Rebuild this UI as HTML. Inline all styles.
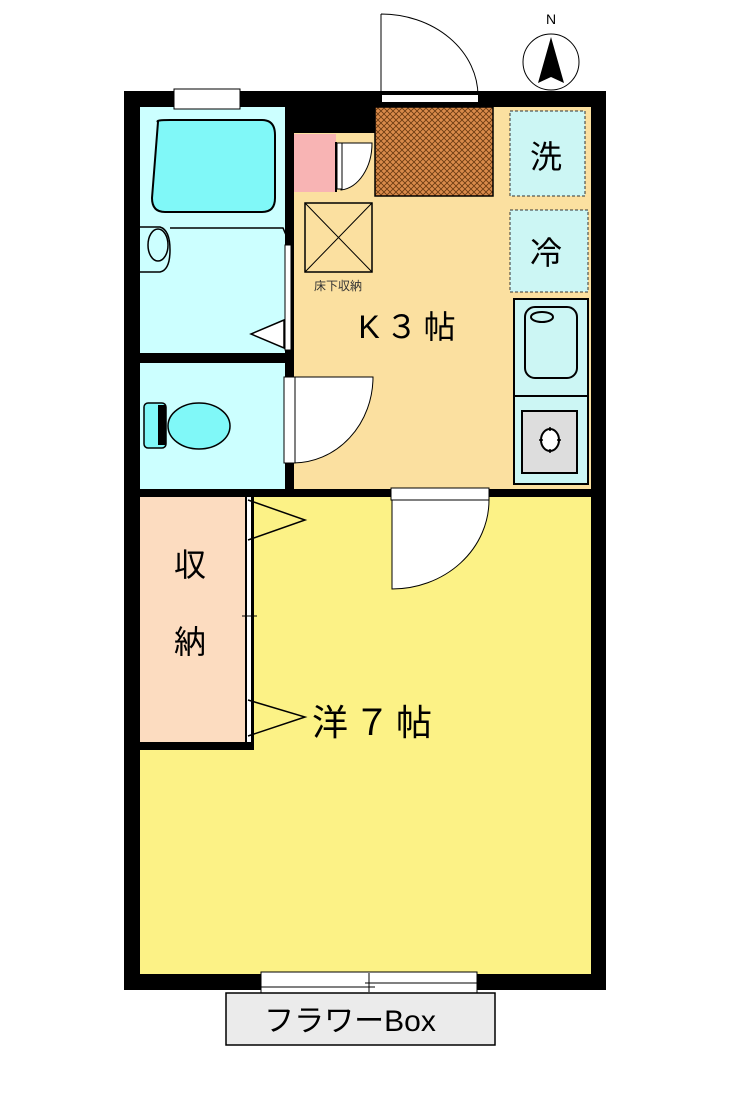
<!DOCTYPE html>
<html><head><meta charset="utf-8"><style>
html,body{margin:0;padding:0;background:#fff;}
svg{display:block;}
text{font-family:"Liberation Sans","Noto Sans CJK JP",sans-serif;}
</style></head><body>
<svg width="754" height="1102" viewBox="0 0 754 1102" xmlns="http://www.w3.org/2000/svg">
<defs>
<pattern id="hatch" width="6" height="6" patternUnits="userSpaceOnUse">
<rect width="6" height="6" fill="#d98a4a"/>
<path d="M0 0L6 6M6 0L0 6" stroke="#6a3a10" stroke-width="0.8"/>
</pattern>
</defs>
<rect x="124" y="91" width="482" height="899" fill="#000"/>
<rect x="140" y="107" width="145" height="246" fill="#ccffff"/>
<rect x="140" y="363" width="145" height="126" fill="#ccffff"/>
<rect x="294" y="107" width="297" height="382" fill="#fbe0a0"/>
<rect x="293" y="107" width="82" height="26" fill="#000"/>
<rect x="140" y="497" width="105" height="245" fill="#fcdcc0"/>
<rect x="254" y="497" width="337" height="477" fill="#fcf286"/>
<rect x="140" y="750" width="114" height="224" fill="#fcf286"/>
<rect x="174" y="89" width="66" height="20" fill="#fff" stroke="#000" stroke-width="1"/>
<path d="M381 14 L381 96 M381 14 A97 82 0 0 1 478 96" fill="none" stroke="#000" stroke-width="1"/>
<rect x="382" y="95" width="96" height="7" fill="#fff"/>
<rect x="375" y="107" width="118" height="89" fill="url(#hatch)" stroke="#000" stroke-width="1.5"/>
<rect x="293" y="134" width="43" height="58" fill="#f8b4b4"/>
<path d="M336 142 L336 192" stroke="#000" stroke-width="2"/>
<path d="M338 143 L372 143 A34 47 0 0 1 341 190 Z" fill="#fff" stroke="#000" stroke-width="1"/>
<rect x="337" y="143" width="5" height="46" fill="#fff" stroke="#000" stroke-width="1"/>
<rect x="510" y="111" width="75" height="85" fill="#ccf6f4" stroke="#333" stroke-width="1" stroke-dasharray="3,2"/>
<rect x="510" y="210" width="78" height="82" fill="#ccf6f4" stroke="#333" stroke-width="1" stroke-dasharray="3,2"/>
<text x="546" y="168" font-size="32" text-anchor="middle">洗</text>
<text x="546" y="264" font-size="32" text-anchor="middle">冷</text>
<rect x="514" y="299" width="74" height="185" fill="#ccf6f4" stroke="#000" stroke-width="2"/>
<line x1="514" y1="396" x2="588" y2="396" stroke="#000" stroke-width="2"/>
<rect x="525" y="307" width="52" height="71" rx="10" fill="#ccf6f4" stroke="#000" stroke-width="2"/>
<ellipse cx="542" cy="317" rx="11" ry="5" fill="none" stroke="#000" stroke-width="2"/>
<rect x="522" y="411" width="55" height="62" fill="#ddd" stroke="#000" stroke-width="2"/>
<ellipse cx="550" cy="440" rx="9" ry="11" fill="#fff" stroke="#000" stroke-width="2"/>
<path d="M550 427v4M550 449v4M539 440h4M557 440h4" stroke="#000" stroke-width="1.5"/>
<rect x="305" y="203" width="67" height="69" fill="none" stroke="#000" stroke-width="1.5"/>
<path d="M305 203 L372 272 M372 203 L305 272" stroke="#000" stroke-width="1"/>
<text x="338" y="290" font-size="12" text-anchor="middle" fill="#333">床下収納</text>
<text x="410" y="338" font-size="32" text-anchor="middle" letter-spacing="6">K３帖</text>
<path d="M158 122 Q155 120 170 120 L262 120 Q275 120 275 135 L275 198 Q275 212 262 212 L165 212 Q152 212 152 198 Z" fill="#80f8f8" stroke="#000" stroke-width="2"/>
<path d="M140 227 L160 227 Q170 230 170 250 Q170 270 160 272 L140 272" fill="none" stroke="#000" stroke-width="1.5"/>
<ellipse cx="158" cy="245" rx="10" ry="16" fill="none" stroke="#000" stroke-width="1.5"/>
<path d="M170 228 L283 228 L286 235" fill="none" stroke="#000" stroke-width="1.5"/>
<path d="M284 320 L251 334 L284 348 Z" fill="#fff" stroke="#000" stroke-width="1.5"/>
<rect x="140" y="353" width="153" height="10" fill="#000"/>
<rect x="285" y="107" width="9" height="383" fill="#000"/>
<rect x="285" y="245" width="6" height="105" fill="#fff" stroke="#000" stroke-width="1"/>
<rect x="144" y="403" width="22" height="45" rx="4" fill="#80f8f8" stroke="#000" stroke-width="1.5"/>
<rect x="158" y="405" width="8" height="40" fill="#000"/>
<ellipse cx="199" cy="426" rx="31" ry="23" fill="#80f8f8" stroke="#000" stroke-width="1.5"/>
<path d="M293 377 L373 377 A80 86 0 0 1 293 463 Z" fill="#fff" stroke="#000" stroke-width="1"/>
<rect x="284" y="377" width="11" height="86" fill="#fff" stroke="#000" stroke-width="1"/>
<rect x="124" y="489" width="482" height="8" fill="#000"/>
<rect x="391" y="488" width="98" height="12" fill="#fff" stroke="#000" stroke-width="1"/>
<path d="M392 500 L489 500 A97 89 0 0 1 392 589 Z" fill="#fff" stroke="#000" stroke-width="1"/>
<rect x="245" y="497" width="9" height="253" fill="#000"/>
<rect x="247" y="497" width="4" height="248" fill="#fff"/>
<rect x="124" y="742" width="130" height="8" fill="#000"/>
<path d="M248 500 L305 520 L248 540" fill="none" stroke="#000" stroke-width="1.5"/>
<path d="M248 700 L305 717 L248 736" fill="none" stroke="#000" stroke-width="1.5"/>
<line x1="242" y1="616" x2="257" y2="616" stroke="#000" stroke-width="1"/>
<text x="190" y="576" font-size="32" text-anchor="middle">収</text>
<text x="190" y="653" font-size="32" text-anchor="middle">納</text>
<text x="375" y="735" font-size="36" text-anchor="middle" letter-spacing="6">洋７帖</text>
<rect x="261" y="972" width="216" height="21" fill="#fff" stroke="#000" stroke-width="1"/>
<line x1="261" y1="987" x2="375" y2="987" stroke="#000" stroke-width="1"/>
<line x1="365" y1="983" x2="477" y2="983" stroke="#000" stroke-width="1"/>
<line x1="369" y1="973" x2="369" y2="992" stroke="#000" stroke-width="1"/>
<rect x="226" y="993" width="269" height="52" fill="#ebebeb" stroke="#000" stroke-width="1.5"/>
<text x="350" y="1031" font-size="30" text-anchor="middle" font-family="Liberation Sans Narrow, Liberation Sans, Noto Sans CJK JP, sans-serif">フラワーBox</text>
<circle cx="551" cy="62" r="28" fill="#fff" stroke="#000" stroke-width="1"/>
<path d="M551 37 L538 83 L551 77 L564 83 Z" fill="#000"/>
<text x="551" y="24" font-size="14" text-anchor="middle">N</text>
</svg>
</body></html>
